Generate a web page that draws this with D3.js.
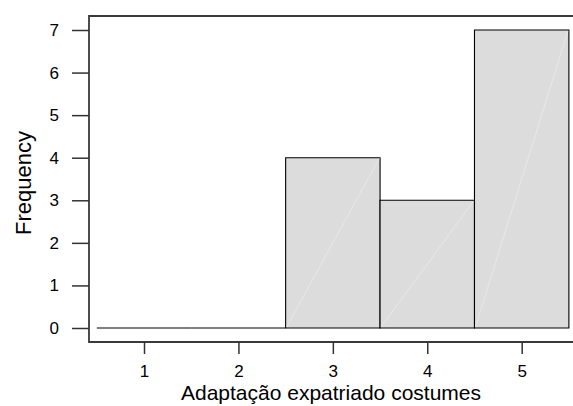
<!DOCTYPE html>
<html><head><meta charset="utf-8">
<script src="https://cdn.jsdelivr.net/npm/d3@7"></script>
<style>body{margin:0;background:#fff}svg{display:block}text{font-family:"Liberation Sans",Arial,sans-serif;fill:#000}</style>
</head><body>
<svg id="c" width="573" height="406"></svg>
<script>
const binCenters = [1, 2, 3, 4, 5];
const frequencies = [0, 0, 4, 3, 7];
const yTicks = [0, 1, 2, 3, 4, 5, 6, 7];
const xTitle = "Adaptação expatriado costumes";
const yTitle = "Frequency";

const svg = d3.select("#c");
const x = d3.scaleLinear().domain([0.5, 5.5]).range([96.8, 568.9]);
const y = d3.scaleLinear().domain([0, 7]).range([328, 30]);
const frameL = 89, frameT = 16, frameB = 342, frameR = 575;

// bars
const g = svg.append("g");
binCenters.forEach((c, i) => {
  const x0 = x(c - 0.5), x1 = x(c + 0.5), y0 = y(0), y1 = y(frequencies[i]);
  g.append("path")
    .attr("d", `M${x0},${y0}V${y1}H${x1}V${y0}Z`)
    .attr("fill", "#dcdcdc").attr("stroke", "#000").attr("stroke-width", 1.1);
  if (frequencies[i] > 0) {
    g.append("line").attr("x1", x0 + 1).attr("y1", y0 - 1).attr("x2", x1 - 1).attr("y2", y1 + 1)
      .attr("stroke", "#e8e8e8").attr("stroke-width", 1);
  }
});

// frame
svg.append("path").attr("d", `M${frameR},${frameT}H${frameL}V${frameB}H${frameR}`)
  .attr("fill", "none").attr("stroke", "#3a3a3a").attr("stroke-width", 1.8);

// y axis
const yAxis = svg.append("g").attr("transform", `translate(${frameL},0)`)
  .call(d3.axisLeft(y).tickValues(yTicks).tickSize(17).tickPadding(13).tickFormat(d3.format("d")));
yAxis.select(".domain").remove();
yAxis.selectAll("line").attr("stroke", "#333").attr("stroke-width", 1.5);
yAxis.selectAll("text").style("font-size", "17px").style("font-family", '"Liberation Sans",Arial,sans-serif').attr("fill", "#000");

// x axis
const xAxis = svg.append("g").attr("transform", `translate(0,${frameB})`)
  .call(d3.axisBottom(x).tickValues(binCenters).tickSize(12).tickPadding(11).tickFormat(d3.format("d")));
xAxis.select(".domain").remove();
xAxis.selectAll("line").attr("stroke", "#333").attr("stroke-width", 1.5);
xAxis.selectAll("text").style("font-size", "17px").style("font-family", '"Liberation Sans",Arial,sans-serif').attr("fill", "#000");

// titles
svg.append("text").attr("x", 331).attr("y", 400).attr("text-anchor", "middle")
  .style("font-size", "21px").text(xTitle);
svg.append("text").attr("transform", "translate(31,183) rotate(-90)").attr("text-anchor", "middle")
  .style("font-size", "22px").text(yTitle);
</script>
</body></html>
